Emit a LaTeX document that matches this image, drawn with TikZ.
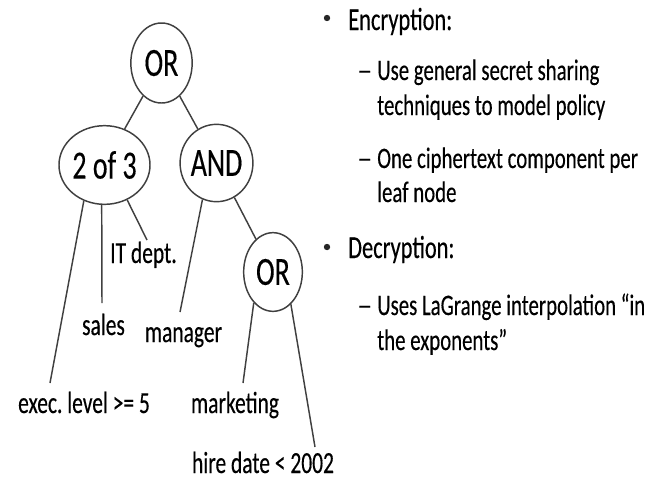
\documentclass[tikz,border=0pt]{standalone}
\usepackage{fontspec}
\setmainfont{Carlito}[FakeStretch=0.7, FakeBold=0.3]
\usetikzlibrary{shapes.geometric}
\frenchspacing

\tikzset{
  gate/.style={draw=black!75, line width=1.1pt, ellipse, inner sep=0pt,
    font=\fontsize{30}{34}\selectfont},
  leaf/.style={anchor=base, inner sep=0pt, font=\fontsize{23}{27}\selectfont},
  head/.style={anchor=base west, inner sep=0pt, font=\fontsize{24}{28}\selectfont},
  sub/.style={anchor=base west, inner sep=0pt, font=\fontsize{22.3}{26}\selectfont},
  dot/.style={fill=black!85, circle, inner sep=0pt, minimum size=4.8pt},
  wire/.style={draw=black!75, line width=1.1pt},
}
\newcommand{\longdash}{\scalebox{1.45}[1]{–}}

\begin{document}
\begin{tikzpicture}[x=0.75pt,y=-0.75pt]
	\useasboundingbox (0,0) rectangle (663,483);
	% access tree
	\node[gate, minimum width=46pt, minimum height=60pt] (root) at (161.5,63) {OR};
	\node[gate, minimum width=62pt, minimum height=59pt] (twoof3) at (104.5,165) {2 of 3};
	\node[gate, minimum width=46pt, minimum height=58pt] (and) at (216.5,163) {AND};
	\node[gate, minimum width=44pt, minimum height=59pt] (or) at (273,272) {OR};
	\draw[wire] (root) -- (twoof3);
	\draw[wire] (root) -- (and);
	\draw[wire] (and) -- (or);
	% leaf attributes
	\node[leaf] (exec) at (84,413) {exec. level >= 5};
	\node[leaf] (sales) at (103.5,335) {sales};
	\node[leaf] (itdept) at (143.5,263) {IT dept.};
	\node[leaf] (manager) at (183.5,342) {manager};
	\node[leaf] (marketing) at (235,413) {marketing};
	\node[leaf] (hire) at (263,473) {hire date < 2002};
	\coordinate (execend) at (50,383);
	\coordinate (salesend) at (102,303);
	\coordinate (itend) at (147,240);
	\coordinate (managerend) at (180,312);
	\coordinate (marketingend) at (243,383);
	\coordinate (hireend) at (315,447);
	\draw[wire] (twoof3.240) -- (execend);
	\draw[wire] (twoof3.266) -- (salesend);
	\draw[wire] (twoof3.303) -- (itend);
	\draw[wire] (and.249) -- (managerend);
	\draw[wire] (or.238) -- (marketingend);
	\draw[wire] (or.299) -- (hireend);
	% bullet list
	\node[dot] (encdot) at (327,18) {};
	\node[head] (enc) at (348,30) {Encryption:};
	\node[sub] (dash1) at (357,80) {\longdash};
	\node[sub] (share1) at (377,80) {Use general secret sharing};
	\node[sub] (share2) at (377,115) {techniques to model policy};
	\node[sub] (dash2) at (357,168) {\longdash};
	\node[sub] (comp1) at (377,168) {One ciphertext component per};
	\node[sub] (comp2) at (377,202) {leaf node};
	\node[dot] (decdot) at (327,247) {};
	\node[head] (dec) at (348,258) {Decryption:};
	\node[sub] (dash3) at (357,315) {\longdash};
	\node[sub] (lag1) at (377,315) {Uses LaGrange interpolation “in};
	\node[sub] (lag2) at (377,350) {the exponents”};
\end{tikzpicture}
\end{document}
